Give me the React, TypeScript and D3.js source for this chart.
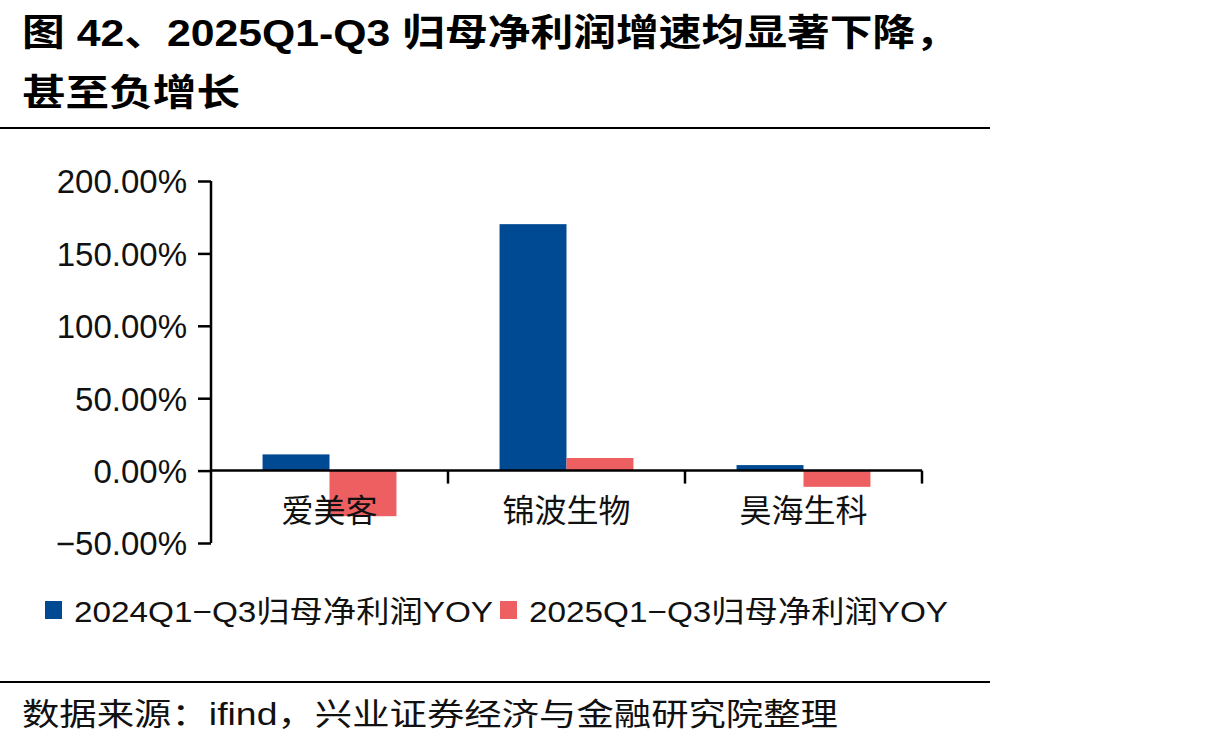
import { useEffect, useRef } from 'react';
import * as d3 from 'd3';

const categories = ['爱美客', '锦波生物', '昊海生科'];
const series = ['2024Q1−Q3归母净利润YOY', '2025Q1−Q3归母净利润YOY'];
const values2024 = [11.2, 170.2, 3.8];
const values2025 = [-31.5, 8.7, -11.2];
const yTicks = [-50, 0, 50, 100, 150, 200];
const colors = ['#004a93', '#ee5f61'];

const W = 1228;
const H = 746;
const FONT = '"Liberation Sans", Arial, "Noto Sans CJK SC", sans-serif';

export default function App() {
  const ref = useRef<SVGSVGElement | null>(null);

  useEffect(() => {
    if (!ref.current) return;
    const svg = d3.select(ref.current);
    svg.selectAll('*').remove();

    // title (stretched to match the wide reference glyphs)
    const title = svg.append('g').attr('font-family', FONT).attr('font-weight', 'bold').attr('font-size', 37).attr('fill', '#000');
    title.append('text').attr('x', 22).attr('y', 46).attr('textLength', 936).attr('lengthAdjust', 'spacingAndGlyphs')
      .text('图 42、2025Q1-Q3 归母净利润增速均显著下降，');
    title.append('text').attr('x', 22).attr('y', 106).attr('textLength', 218).attr('lengthAdjust', 'spacingAndGlyphs')
      .text('甚至负增长');

    svg.append('line').attr('x1', 0).attr('x2', 990).attr('y1', 128).attr('y2', 128).attr('stroke', '#000').attr('stroke-width', 2);
    svg.append('line').attr('x1', 0).attr('x2', 990).attr('y1', 682).attr('y2', 682).attr('stroke', '#000').attr('stroke-width', 2);

    const x = d3.scaleBand().domain(categories).range([211, 922]);
    const y = d3.scaleLinear().domain([-50, 200]).range([543, 181]);
    const inner = d3.scaleBand().domain(['0', '1']).range([0, x.bandwidth()]).paddingInner(0).paddingOuter(0.77);

    const rows = categories.map((c, i) => ({ c, v: [values2024[i], values2025[i]] }));
    const g = svg.append('g');
    rows.forEach((r) => {
      r.v.forEach((v, k) => {
        g.append('rect')
          .attr('x', (x(r.c) ?? 0) + (inner(String(k)) ?? 0))
          .attr('width', inner.bandwidth())
          .attr('y', y(Math.max(0, v)))
          .attr('height', Math.abs(y(v) - y(0)))
          .attr('fill', colors[k]);
      });
    });

    // y axis
    const yAxis = d3.axisLeft(y).tickValues(yTicks).tickSize(13).tickPadding(11)
      .tickFormat((d) => `${(+d).toFixed(2)}%`.replace('-', '−'));
    const ya = svg.append('g').attr('transform', 'translate(211,0)').call(yAxis);
    ya.selectAll('path, line').attr('stroke', '#000').attr('stroke-width', 2.5);
    ya.select('.domain').attr('d', `M0,${y(200)}V${y(-50)}`);
    ya.selectAll('text').attr('font-size', 33).attr('font-family', FONT).attr('fill', '#111').attr('dy', '0.36em');

    // x axis at zero
    const xa = svg.append('g').attr('transform', `translate(0,${y(0)})`);
    xa.append('line').attr('x1', 211).attr('x2', 922).attr('stroke', '#000').attr('stroke-width', 2.5);
    categories.forEach((c) => {
      const b = (x(c) ?? 0) + x.bandwidth();
      xa.append('line').attr('x1', b).attr('x2', b).attr('y1', 0).attr('y2', 13).attr('stroke', '#000').attr('stroke-width', 2.5);
    });
    categories.forEach((c) => {
      svg.append('text')
        .attr('x', (x(c) ?? 0) + x.bandwidth() / 2)
        .attr('y', 522)
        .attr('text-anchor', 'middle')
        .attr('font-size', 32)
        .attr('font-family', FONT)
        .attr('fill', '#111')
        .text(c);
    });

    // legend
    const legX = [45, 500];
    series.forEach((s, k) => {
      svg.append('rect').attr('x', legX[k]).attr('y', 601).attr('width', 17).attr('height', 18).attr('fill', colors[k]);
      svg.append('text').attr('x', legX[k] + 29).attr('y', 622).attr('font-size', 30).attr('font-family', FONT).attr('fill', '#111')
        .attr('textLength', 419).attr('lengthAdjust', 'spacingAndGlyphs').text(s);
    });

    svg.append('text').attr('x', 22).attr('y', 725).attr('font-size', 31).attr('font-family', FONT).attr('fill', '#111')
      .attr('textLength', 816).attr('lengthAdjust', 'spacingAndGlyphs')
      .text('数据来源：ifind，兴业证券经济与金融研究院整理');
  }, []);

  return <svg ref={ref} width={W} height={H} style={{ position: 'absolute', left: 0, top: 0, background: '#fff' }} />;
}
